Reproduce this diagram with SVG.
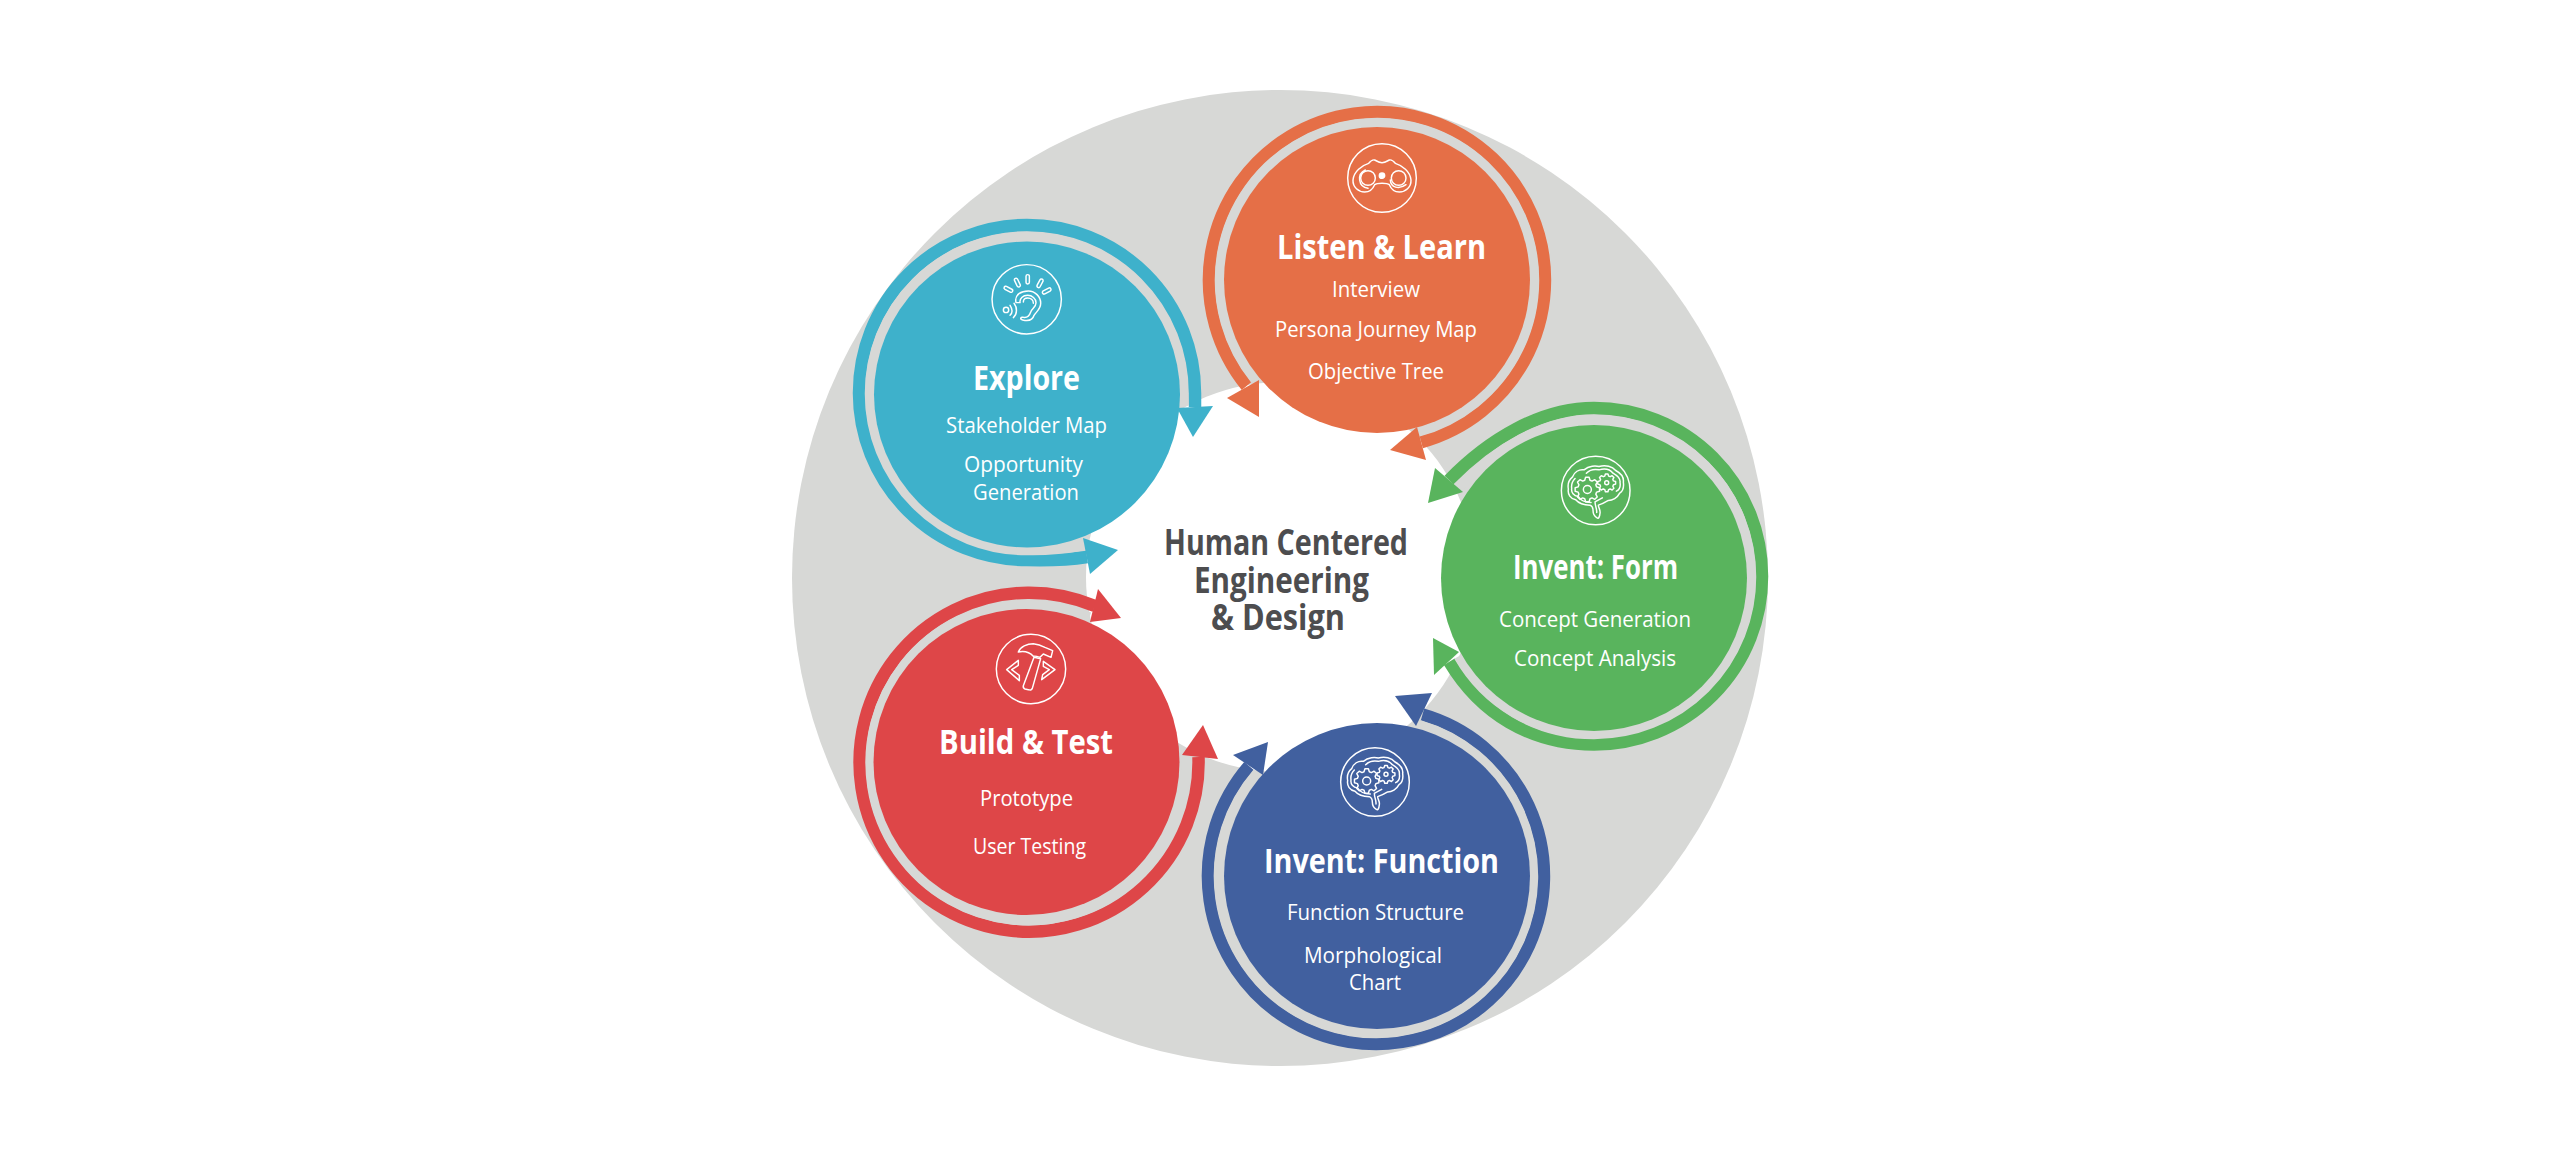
<svg xmlns="http://www.w3.org/2000/svg" xmlns:xlink="http://www.w3.org/1999/xlink" width="2560" height="1156" viewBox="0 0 2560 1156">
<style>
text{font-family:"Open Sans","Noto Sans","Liberation Sans",sans-serif;fill:#fff}
.t{font-size:34px;font-weight:700}
.s{font-size:21.5px;font-weight:400}
.c{font-size:35px;font-weight:700;fill:#4d4d4f}
.arc{fill:none;stroke-width:12.5}
.ring{fill:none;stroke:#d7d8d6;stroke-width:9.5}
.ic{fill:none;stroke:#fff;stroke-width:4.4;stroke-linejoin:round;stroke-linecap:round}
.or{stroke:#e56f47}.oh{fill:#e56f47}
.te{stroke:#3eb1cb}.th{fill:#3eb1cb}
.gr{stroke:#59b45d}.gh{fill:#59b45d}
.bl{stroke:#41609f}.bh{fill:#41609f}
.re{stroke:#de4648}.rh{fill:#de4648}
</style>
<defs>
<polygon id="gear" points="99,14 75,21.5 68.2,37.8 79.9,60.2 60.2,79.9 37.8,68.2 21.5,75 14,99 -14,99 -21.5,75 -37.8,68.2 -60.2,79.9 -79.9,60.2 -68.2,37.8 -75,21.5 -99,14 -99,-14 -75,-21.5 -68.2,-37.8 -79.9,-60.2 -60.2,-79.9 -37.8,-68.2 -21.5,-75 -14,-99 14,-99 21.5,-75 37.8,-68.2 60.2,-79.9 79.9,-60.2 68.2,-37.8 75,-21.5 99,-14"/>
<g id="brain">
<circle r="103"/>
<path d="M-17,44 C-35,44 -50,40 -60,28 C-75,25 -85,12 -82,-4 C-85,-20 -80,-32 -70,-40 C-65,-55 -50,-65 -35,-62 C-20,-75 0,-75 10,-72 C30,-78 50,-72 60,-60 C75,-52 85,-40 83,-25 C85,-10 80,3 72,8 C65,22 50,30 38,30 C25,38 15,42 8,44 C8,52 15,58 13,68 C12,80 8,86 4,82 C-3,78 -8,70 -8,60 C-8,52 -12,46 -17,44Z"/>
<path d="M-14,36 C-30,36 -45,30 -52,18 C-66,16 -74,6 -72,-6 C-74,-20 -70,-28 -62,-36 M-28,-52 C-16,-64 0,-64 10,-62 C30,-68 44,-62 52,-52 C66,-44 75,-36 73,-24 C75,-12 70,-2 62,2 M20,22 C10,28 4,30 -2,34 C-2,48 4,54 3,66"/>
<use xlink:href="#gear" href="#gear" transform="translate(-25 -3) scale(.37)" stroke-width="11.9"/>
<circle cx="-25" cy="-3" r="12"/>
<use xlink:href="#gear" href="#gear" transform="translate(33 -23) scale(.27)" stroke-width="16.3"/>
<circle cx="33" cy="-23" r="6"/>
</g>
</defs>
<circle id="backdrop" cx="1280" cy="578" r="488" fill="#d7d8d6"/>
<circle id="center-hole" cx="1281" cy="577" r="195" fill="#fff"/>
<g id="connectors">
<path class="arc or" d="M1246.6,386 A168,168 0 1 1 1421.2,442.1"/>
<path class="ring" d="M1254.8,379.4 A157.5,157.5 0 1 1 1418.4,432"/>
<polygon class="oh" points="1227,398 1259,380 1259,417"/>
<polygon class="oh" points="1390,450 1417,427 1426,460"/>
<path class="arc te" d="M1087,557 C1068,560 1047,560.5 1027,560 A168,167 0 0 1 859,393 A168,168 0 0 1 1027,225 A168,168 0 0 1 1195,393 L1195,407"/>
<path class="ring" d="M1084,545.5 C1066,549 1047,551 1026.5,550.5 A157,157 0 0 1 869.5,393.5 A157,157 0 0 1 1026.5,236.5 A157,157 0 0 1 1183.5,393.5 L1184,406"/>
<polygon class="th" points="1177,408 1213,406 1193,437"/>
<polygon class="th" points="1083,538 1118,550 1090,574"/>
<path class="arc gr" d="M1449,480 C1488,440 1540,408 1594,408 A168,168 0 0 1 1762,576 A168,168 0 0 1 1594,744.5 C1530,744.5 1480,713 1449.3,661.8"/>
<path class="ring" d="M1459.5,487.5 C1495,448 1545,419.5 1594,419.5 A157.5,157.5 0 0 1 1751.5,577 A157.5,157.5 0 0 1 1594,734.5 C1535,734.5 1485,703 1458.4,656.5"/>
<polygon class="gh" points="1428,503 1435,468 1463,492"/>
<polygon class="gh" points="1433,638 1459,652 1434,675"/>
<path class="arc bl" d="M1422.5,714.6 A168,168 0 1 1 1249,766"/>
<path class="ring" d="M1419.6,724.7 A157.5,157.5 0 1 1 1257,772.8"/>
<polygon class="bh" points="1395,696 1432,693 1416,726"/>
<polygon class="bh" points="1268,742 1233,755 1263,775"/>
<path class="arc re" d="M1198.5,757 A169.5,169.5 0 1 1 1095,606"/>
<path class="ring" d="M1186,757.3 A158,158 0 1 1 1089.3,617"/>
<polygon class="rh" points="1121,618 1098,589 1090,622"/>
<polygon class="rh" points="1203,725 1182,755 1218,759"/>
</g>
<g id="listen-learn">
<circle class="oh" cx="1377" cy="280" r="153"/>
<g class="ic" transform="translate(1382 178) scale(.3333)">
<circle r="103"/>
<path d="M-87,6 C-85,-20 -60,-38 -40,-44 C-35,-50 -28,-56 -22,-54 C-15,-50 -7,-46 0,-46 C7,-46 15,-50 22,-54 C28,-56 35,-50 40,-44 C60,-38 85,-20 87,6 C88,28 70,42 52,42 C38,42 28,34 22,20 C15,14 -15,14 -22,20 C-28,34 -38,42 -52,42 C-70,42 -88,28 -87,6Z"/>
<circle cx="-42" cy="0" r="22"/>
<path d="M-50,-24 C-76,-12 -72,26 -42,31"/>
<circle cx="50" cy="0" r="22"/>
<path d="M25,6 C26,28 50,36 72,20"/>
<circle cx="0" cy="-7" r="8" fill="#fff"/>
</g>
<text class="t" x="1277" y="259" textLength="209" lengthAdjust="spacingAndGlyphs">Listen &amp; Learn</text>
<text class="s" x="1332" y="297" textLength="88" lengthAdjust="spacingAndGlyphs">Interview</text>
<text class="s" x="1275" y="337" textLength="202" lengthAdjust="spacingAndGlyphs">Persona Journey Map</text>
<text class="s" x="1308" y="379" textLength="136" lengthAdjust="spacingAndGlyphs">Objective Tree</text>
</g>
<g id="explore">
<circle class="th" cx="1027" cy="394.5" r="153"/>
<g class="ic" transform="translate(1026.7 299.3) scale(.3333)">
<circle r="104"/>
<rect x="-5" y="-14" width="10" height="28" rx="5" transform="translate(-55 -30) rotate(-62)"/>
<rect x="-5" y="-14" width="10" height="28" rx="5" transform="translate(-28 -50) rotate(-25)"/>
<rect x="-5" y="-14" width="10" height="28" rx="5" transform="translate(3 -60)"/>
<rect x="-5" y="-14" width="10" height="28" rx="5" transform="translate(40 -48) rotate(28)"/>
<rect x="-5" y="-14" width="10" height="28" rx="5" transform="translate(60 -25) rotate(62)"/>
<path d="M-32,10 C-38,-15 -15,-25 5,-25 C25,-25 42,-8 42,12 C42,30 28,38 22,48 C18,62 5,66 -12,62 C-22,60 -18,52 -10,54 C2,56 8,50 12,38 C15,28 28,24 28,10 C28,-2 16,-12 3,-12 C-12,-12 -22,-2 -20,10Z"/>
<path d="M-10,8 C-10,-2 -3,-4 3,-4 C12,-4 20,2 20,12"/>
<path d="M-38,12 C-28,25 -28,45 -40,55 M-50,18 C-42,30 -42,40 -50,48"/>
<circle cx="-62" cy="32" r="8"/>
</g>
<text class="t" x="973" y="390" textLength="107" lengthAdjust="spacingAndGlyphs">Explore</text>
<text class="s" x="946" y="433" textLength="161" lengthAdjust="spacingAndGlyphs">Stakeholder Map</text>
<text class="s" x="964" y="472" textLength="119" lengthAdjust="spacingAndGlyphs">Opportunity</text>
<text class="s" x="973" y="500" textLength="106" lengthAdjust="spacingAndGlyphs">Generation</text>
</g>
<g id="invent-form">
<circle class="gh" cx="1594" cy="578" r="153"/>
<use class="ic" xlink:href="#brain" href="#brain" transform="translate(1595.7 490.5) scale(.3333)"/>
<text class="t" x="1513" y="579" textLength="165" lengthAdjust="spacingAndGlyphs">Invent: Form</text>
<text class="s" x="1499" y="627" textLength="192" lengthAdjust="spacingAndGlyphs">Concept Generation</text>
<text class="s" x="1514" y="666" textLength="162" lengthAdjust="spacingAndGlyphs">Concept Analysis</text>
</g>
<g id="invent-function">
<circle class="bh" cx="1377" cy="876" r="153"/>
<use class="ic" xlink:href="#brain" href="#brain" transform="translate(1375 782) scale(.3333)"/>
<text class="t" x="1264" y="873" textLength="235" lengthAdjust="spacingAndGlyphs">Invent: Function</text>
<text class="s" x="1287" y="920" textLength="177" lengthAdjust="spacingAndGlyphs">Function Structure</text>
<text class="s" x="1304" y="963" textLength="138" lengthAdjust="spacingAndGlyphs">Morphological</text>
<text class="s" x="1349" y="990" textLength="52" lengthAdjust="spacingAndGlyphs">Chart</text>
</g>
<g id="build-test">
<circle class="rh" cx="1026.5" cy="762" r="153"/>
<g class="ic" transform="translate(1031 669) scale(.3333)">
<circle r="104"/>
<path d="M-38,-51 C-32,-66 -12,-76 7,-76 C22,-74 32,-70 42,-65 L65,-55 L60,-35 L37,-45 L27,-35 C18,-38 12,-40 7,-38 C-2,-48 -18,-55 -38,-51Z"/>
<path d="M9,-35 L29,-31 L4,58 C2,64 -3,64 -8,62 L-18,60 C-23,58 -24,54 -23,50Z"/>
<path d="M-73,2 L-38,-26 L-38,-11 L-58,2 L-35,19 L-35,35Z"/>
<path d="M72,2 L37,-23 L37,-8 L55,2 L35,17 L32,32Z"/>
</g>
<text class="t" x="939" y="754" textLength="174" lengthAdjust="spacingAndGlyphs">Build &amp; Test</text>
<text class="s" x="980" y="806" textLength="93" lengthAdjust="spacingAndGlyphs">Prototype</text>
<text class="s" x="973" y="854" textLength="113" lengthAdjust="spacingAndGlyphs">User Testing</text>
</g>
<g id="center-title">
<text class="c" x="1164" y="555" textLength="244" lengthAdjust="spacingAndGlyphs">Human Centered</text>
<text class="c" x="1194" y="593" textLength="175" lengthAdjust="spacingAndGlyphs">Engineering</text>
<text class="c" x="1211" y="630" textLength="134" lengthAdjust="spacingAndGlyphs">&amp; Design</text>
</g>
</svg>
